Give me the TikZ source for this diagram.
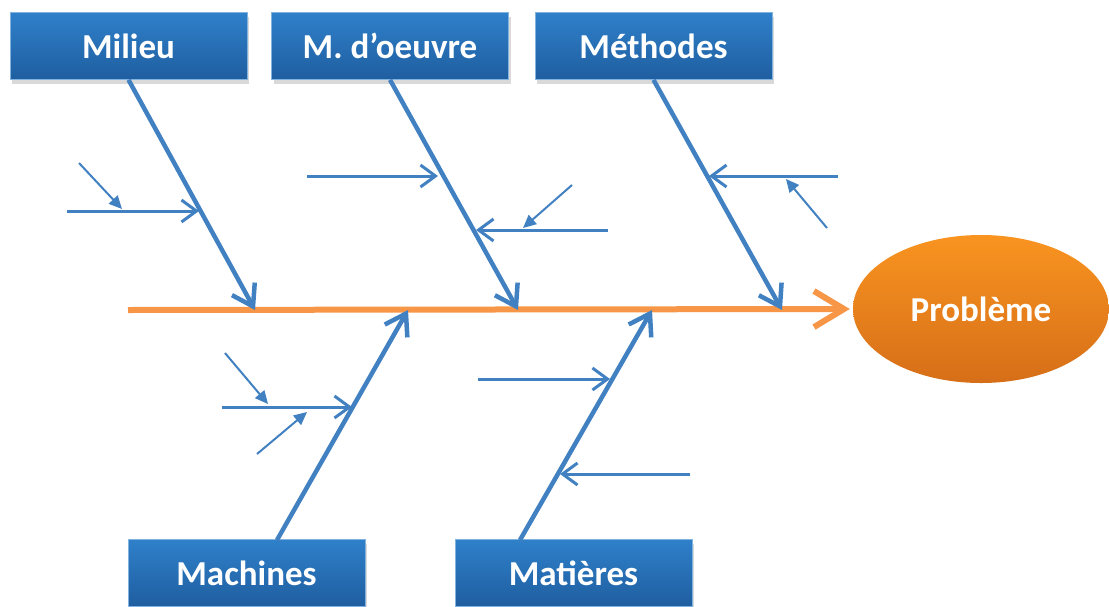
\documentclass[tikz,border=0pt]{standalone}
\usepackage{fontspec}
\setmainfont{Carlito}
\usetikzlibrary{arrows.meta,shadows,shapes.geometric}
\definecolor{boxtop}{RGB}{47,128,202}
\definecolor{boxbot}{RGB}{31,94,160}
\definecolor{bonecol}{RGB}{66,129,193}
\definecolor{spinecol}{RGB}{247,150,70}
\definecolor{ortop}{RGB}{249,148,32}
\definecolor{orbot}{RGB}{214,110,24}
\begin{document}
\begin{tikzpicture}[x=1pt,y=-1pt,
  catbox/.style={rectangle, minimum width=237pt, minimum height=67pt, inner sep=0pt,
    top color=boxtop, bottom color=boxbot, draw=boxtop!60!white, line width=0.6pt,
    font=\fontsize{35}{35}\selectfont\bfseries, text=white,
    drop shadow={shadow xshift=2pt, shadow yshift=-4pt, opacity=0.3}},
  probnode/.style={ellipse, minimum width=256pt, minimum height=148pt, inner sep=0pt,
    top color=ortop, bottom color=orbot, draw=none,
    font=\fontsize{35}{35}\selectfont\bfseries, text=white},
  spineline/.style={draw=spinecol, line width=6pt,
    -{Straight Barb[length=30pt,width=36pt]}},
  boneline/.style={draw=bonecol, line width=4.5pt,
    -{Straight Barb[length=20pt,width=26pt]}},
  subline/.style={draw=bonecol, line width=3pt,
    -{Straight Barb[length=15pt,width=22pt]}},
  twigline/.style={draw=bonecol, line width=2pt,
    -{Triangle[length=13pt,width=12pt]}}
]
\useasboundingbox (0,0) rectangle (1109,606);

% category boxes
\node[catbox] (milieu)   at (128.5,46) {Milieu};
\node[catbox] (moeuvre)  at (390,46)   {M. d’oeuvre};
\node[catbox] (methodes) at (653.5,46) {Méthodes};
\node[catbox] (machines) at (246.5,573) {Machines};
\node[catbox] (matieres) at (573.5,573) {Matières};
\node[probnode] (prob) at (981,309) {Problème};

% spine
\coordinate (spstart) at (128,310);
\draw[spineline, shorten >=3pt] (spstart) -- (prob.west);

% bone end points on the spine
\coordinate (e1) at (255,310);
\coordinate (e2) at (518,310);
\coordinate (e3) at (782,310);
\coordinate (e4) at (408,310);
\coordinate (e5) at (652,310);
\coordinate (s4) at (277,540);
\coordinate (s5) at (520,540);

\draw[boneline] (milieu.south)   -- (e1);
\draw[boneline] (moeuvre.south)  -- (e2);
\draw[boneline] (methodes.south) -- (e3);
\draw[boneline] (s4) -- (e4);
\draw[boneline] (s5) -- (e5);

% Milieu sub-causes
\coordinate (a1) at (67,211);  \coordinate (a1e) at (199,211);
\coordinate (a2) at (79,163);  \coordinate (a2e) at (122,209);
\draw[subline] (a1) -- (a1e);
\draw[twigline] (a2) -- (a2e);

% M. d'oeuvre sub-causes
\coordinate (b1) at (307,176); \coordinate (b1e) at (438,176);
\coordinate (b2) at (608,230); \coordinate (b2e) at (476,230);
\coordinate (b3) at (572,185); \coordinate (b3e) at (523,228);
\draw[subline] (b1) -- (b1e);
\draw[subline] (b2) -- (b2e);
\draw[twigline] (b3) -- (b3e);

% Methodes sub-causes
\coordinate (c1) at (838,176); \coordinate (c1e) at (709,176);
\coordinate (c2) at (827,228); \coordinate (c2e) at (786,179);
\draw[subline] (c1) -- (c1e);
\draw[twigline] (c2) -- (c2e);

% Machines sub-causes
\coordinate (d1) at (222,407); \coordinate (d1e) at (352,407);
\coordinate (d2) at (225,353); \coordinate (d2e) at (268,404);
\coordinate (d3) at (257,454); \coordinate (d3e) at (307,412);
\draw[subline] (d1) -- (d1e);
\draw[twigline] (d2) -- (d2e);
\draw[twigline] (d3) -- (d3e);

% Matieres sub-causes
\coordinate (f1) at (478,379); \coordinate (f1e) at (610,379);
\coordinate (f2) at (690,474); \coordinate (f2e) at (560,474);
\draw[subline] (f1) -- (f1e);
\draw[subline] (f2) -- (f2e);
\end{tikzpicture}
\end{document}
